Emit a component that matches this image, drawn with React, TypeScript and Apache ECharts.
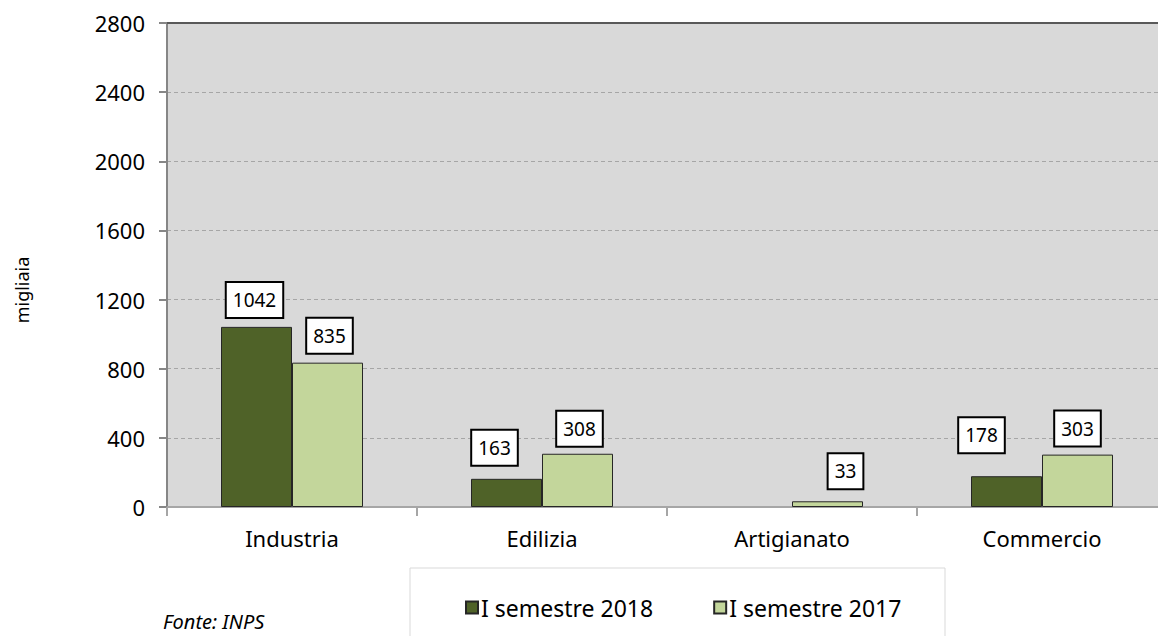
import React, { useEffect, useRef } from "react";
import * as echarts from "echarts";

const categories = ["Industria", "Edilizia", "Artigianato", "Commercio"];
const sem2018: (number | null)[] = [1042, 163, null, 178];
const sem2017: number[] = [835, 308, 33, 303];
const yTicks = { min: 0, max: 2800, interval: 400 };
const seriesNames = ["I semestre 2018", "I semestre 2017"];

// manual label nudges (layout only)
const labelOffsets2018: [number, number][] = [[-2, 0], [-12, -4], [0, 0], [-25, -14]];
const labelOffsets2017: [number, number][] = [[2, 0], [2, 2], [18, -3], [0, 1]];

const FONT = "Noto Sans";

const labelStyle = {
  show: true,
  position: "top" as const,
  distance: 10,
  color: "#000",
  fontFamily: FONT,
  fontSize: 19,
  lineHeight: 24,
  backgroundColor: "#fff",
  borderColor: "#000",
  borderWidth: 2,
  padding: [5, 6, 5, 6],
};

export default function App() {
  const ref = useRef<HTMLDivElement>(null);
  useEffect(() => {
    document.body.style.margin = "0";
    if (!ref.current) return;
    const chart = echarts.init(ref.current, undefined, { renderer: "svg" });
    chart.setOption({
      animation: false,
      backgroundColor: "#fff",
      textStyle: { fontFamily: FONT },
      grid: {
        left: 167,
        top: 23,
        width: 1000,
        height: 484,
        show: true,
        backgroundColor: "#d9d9d9",
        borderWidth: 0,
      },
      legend: {
        left: 460,
        top: 591,
        itemWidth: 12,
        itemHeight: 12,
        itemGap: 60,
        icon: "rect",
        textStyle: { fontFamily: FONT, fontSize: 23, color: "#000", padding: [0, 0, 0, -2] },
        data: seriesNames,
      },
      graphic: [
        {
          type: "rect",
          shape: { x: 410, y: 568, width: 535, height: 100 },
          style: { fill: "#fff", stroke: "#d9d9d9", lineWidth: 1 },
          z: -1,
        },
        {
          type: "text",
          x: 22,
          y: 290,
          rotation: Math.PI / 2,
          style: {
            text: "migliaia",
            fontFamily: FONT,
            fontSize: 18,
            fill: "#000",
            align: "center",
            verticalAlign: "middle",
          },
        },
        {
          type: "text",
          x: 163,
          y: 611,
          style: {
            text: "Fonte: INPS",
            fontFamily: FONT,
            fontSize: 20,
            fontStyle: "italic",
            fill: "#000",
            align: "left",
            verticalAlign: "top",
          },
        },
      ],
      xAxis: [
        {
          type: "category",
          data: categories,
          axisLine: { lineStyle: { color: "#a6a6a6", width: 2 } },
          axisTick: { show: true, length: 9, lineStyle: { color: "#a6a6a6", width: 2 } },
          axisLabel: { color: "#000", fontFamily: FONT, fontSize: 22, margin: 20 },
          splitLine: { show: false },
        },
        {
          type: "category",
          data: categories,
          position: "top",
          axisLine: { lineStyle: { color: "#595959", width: 2 } },
          axisTick: { show: false },
          axisLabel: { show: false },
        },
      ],
      yAxis: {
        type: "value",
        min: yTicks.min,
        max: yTicks.max,
        interval: yTicks.interval,
        axisLine: { show: true, lineStyle: { color: "#868686", width: 2 } },
        axisTick: { show: true, length: 8, lineStyle: { color: "#868686", width: 2 } },
        axisLabel: {
          color: "#000",
          fontFamily: FONT,
          fontSize: 22,
          margin: 22,
          formatter: (v: number) => String(v),
        },
        splitLine: { show: true, lineStyle: { color: "#a6a6a6", width: 1, type: [4, 3] } },
      },
      series: [
        {
          name: seriesNames[0],
          type: "bar",
          barWidth: 71,
          barGap: "0%",
          itemStyle: { color: "#4f6228", borderColor: "#262626", borderWidth: 1 },
          label: labelStyle,
          data: sem2018.map((v, i) => ({
            value: v,
            label: { offset: labelOffsets2018[i] },
          })),
        },
        {
          name: seriesNames[1],
          type: "bar",
          barWidth: 71,
          barGap: "0%",
          itemStyle: { color: "#c3d69b", borderColor: "#262626", borderWidth: 1 },
          label: labelStyle,
          data: sem2017.map((v, i) => ({
            value: v,
            label: { offset: labelOffsets2017[i] },
          })),
        },
      ],
    });
    return () => chart.dispose();
  }, []);
  return (
    <div style={{ width: 1158, height: 636, overflow: "hidden" }}>
      <div ref={ref} style={{ width: 1180, height: 636 }} />
    </div>
  );
}
